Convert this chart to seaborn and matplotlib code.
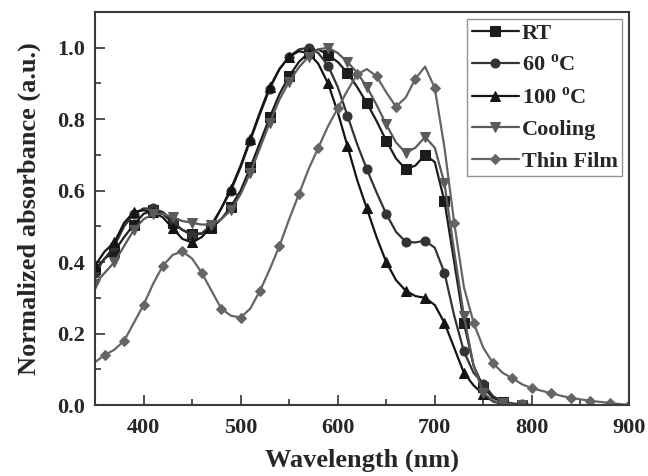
import matplotlib
matplotlib.use('Agg')
import matplotlib.pyplot as plt
import numpy as np
import pandas as pd
import seaborn as sns

# wavelength grid (nm)
wl_sol = list(range(350, 810, 10))
wl_film = list(range(350, 910, 10))

rt = [0.38, 0.41, 0.43, 0.47, 0.505, 0.535, 0.545, 0.535, 0.51, 0.49,
      0.48, 0.48, 0.495, 0.52, 0.555, 0.60, 0.665, 0.735, 0.805, 0.87,
      0.92, 0.96, 0.985, 0.995, 0.98, 0.96, 0.93, 0.89, 0.845, 0.795,
      0.74, 0.69, 0.66, 0.67, 0.70, 0.68, 0.57, 0.40, 0.23, 0.11,
      0.05, 0.02, 0.01, 0.004, 0.001, 0.0]
c60 = [0.37, 0.41, 0.445, 0.50, 0.535, 0.55, 0.55, 0.54, 0.515, 0.49,
       0.475, 0.48, 0.505, 0.55, 0.60, 0.665, 0.74, 0.815, 0.885, 0.94,
       0.975, 0.995, 1.0, 0.985, 0.95, 0.89, 0.81, 0.73, 0.66, 0.595,
       0.535, 0.485, 0.457, 0.455, 0.46, 0.44, 0.37, 0.25, 0.15, 0.09,
       0.06, 0.025, 0.01, 0.004, 0.002, 0.0]
c100 = [0.39, 0.43, 0.455, 0.51, 0.54, 0.545, 0.54, 0.525, 0.495, 0.465,
        0.455, 0.47, 0.50, 0.55, 0.605, 0.67, 0.745, 0.82, 0.89, 0.94,
        0.975, 0.99, 0.985, 0.955, 0.90, 0.82, 0.725, 0.63, 0.55, 0.47,
        0.40, 0.35, 0.32, 0.305, 0.30, 0.28, 0.23, 0.16, 0.09, 0.055,
        0.03, 0.01, 0.003, 0.001, 0.0, 0.0]
cooling = [0.34, 0.37, 0.40, 0.445, 0.49, 0.52, 0.535, 0.535, 0.525, 0.515,
           0.51, 0.505, 0.505, 0.52, 0.545, 0.59, 0.65, 0.72, 0.79, 0.855,
           0.905, 0.945, 0.975, 0.995, 1.0, 0.985, 0.96, 0.93, 0.89, 0.84,
           0.785, 0.735, 0.706, 0.72, 0.75, 0.72, 0.62, 0.43, 0.25, 0.11,
           0.034, 0.012, 0.005, 0.002, 0.0, 0.0]
film = [0.12, 0.14, 0.155, 0.18, 0.23, 0.28, 0.34, 0.39, 0.42, 0.43,
        0.41, 0.37, 0.32, 0.27, 0.25, 0.245, 0.27, 0.32, 0.38, 0.445,
        0.52, 0.59, 0.66, 0.72, 0.78, 0.83, 0.88, 0.925, 0.94, 0.92,
        0.875, 0.835, 0.86, 0.913, 0.947, 0.887, 0.72, 0.51, 0.33, 0.23,
        0.16, 0.117, 0.09, 0.075, 0.058, 0.047, 0.04, 0.033, 0.026, 0.02,
        0.016, 0.012, 0.009, 0.006, 0.003, 0.0]

labels = ['RT', r'60 $^{\rm o}$C', r'100 $^{\rm o}$C', 'Cooling', 'Thin Film']

sns.set_style('ticks')
plt.rcParams['font.family'] = ['Liberation Serif', 'DejaVu Serif']
plt.rcParams['font.weight'] = 'bold'
plt.rcParams['mathtext.fontset'] = 'custom'
plt.rcParams['mathtext.rm'] = 'Liberation Serif:bold'

fig = plt.figure(figsize=(6.48, 4.76), dpi=100)
ax = fig.add_axes([0.1466, 0.149, 0.824, 0.826])

series = [
    (wl_sol, rt, labels[0], 's', '#1c1c1c', 0),
    (wl_sol, c60, labels[1], 'o', '#333333', 0),
    (wl_sol, c100, labels[2], '^', '#141414', 0),
    (wl_sol, cooling, labels[3], 'v', '#5a5a5a', 0),
    (wl_film, film, labels[4], 'D', '#656565', 1),
]
for x, y, lab, m, col, start in series:
    sns.lineplot(x=x, y=y, ax=ax, label=lab, color=col, marker=m,
                 markersize=6.5 if m != 'D' else 5.5, markevery=(start, 2),
                 linewidth=1.6, markeredgecolor=col, markerfacecolor=col)

ax.set_xlim(350, 900)
ax.set_ylim(0, 1.1)
ax.set_xticks([400, 500, 600, 700, 800, 900])
ax.set_xticks(np.arange(350, 900, 50), minor=True)
ax.set_yticks([0.0, 0.2, 0.4, 0.6, 0.8, 1.0])
ax.set_yticks(np.arange(0.1, 1.1, 0.2), minor=True)
ax.yaxis.set_major_formatter(matplotlib.ticker.FormatStrFormatter('%.1f'))
ax.tick_params(which='major', direction='in', length=7, width=1.2, labelsize=16,
               color='#333333')
ax.tick_params(axis='x', which='major', pad=9)
ax.tick_params(axis='y', which='major', pad=7)
ax.tick_params(which='minor', direction='in', length=4, width=1.2, color='#333333')
for s in ax.spines.values():
    s.set_color('#3a3a3a')
    s.set_linewidth(1.5)

ax.set_xlabel('Wavelength (nm)', fontsize=19, fontweight='bold', labelpad=8)
ax.set_ylabel('Normalized absorbance (a.u.)', fontsize=19, fontweight='bold', labelpad=12)

leg = ax.legend(loc='upper right', fontsize=16, frameon=True, fancybox=False,
                edgecolor='#777777', handlelength=2.1, handletextpad=0.15,
                labelspacing=0.5, borderpad=0.2, borderaxespad=0.3)
leg.get_frame().set_linewidth(1.0)

fig.savefig('out.png', dpi=100)
